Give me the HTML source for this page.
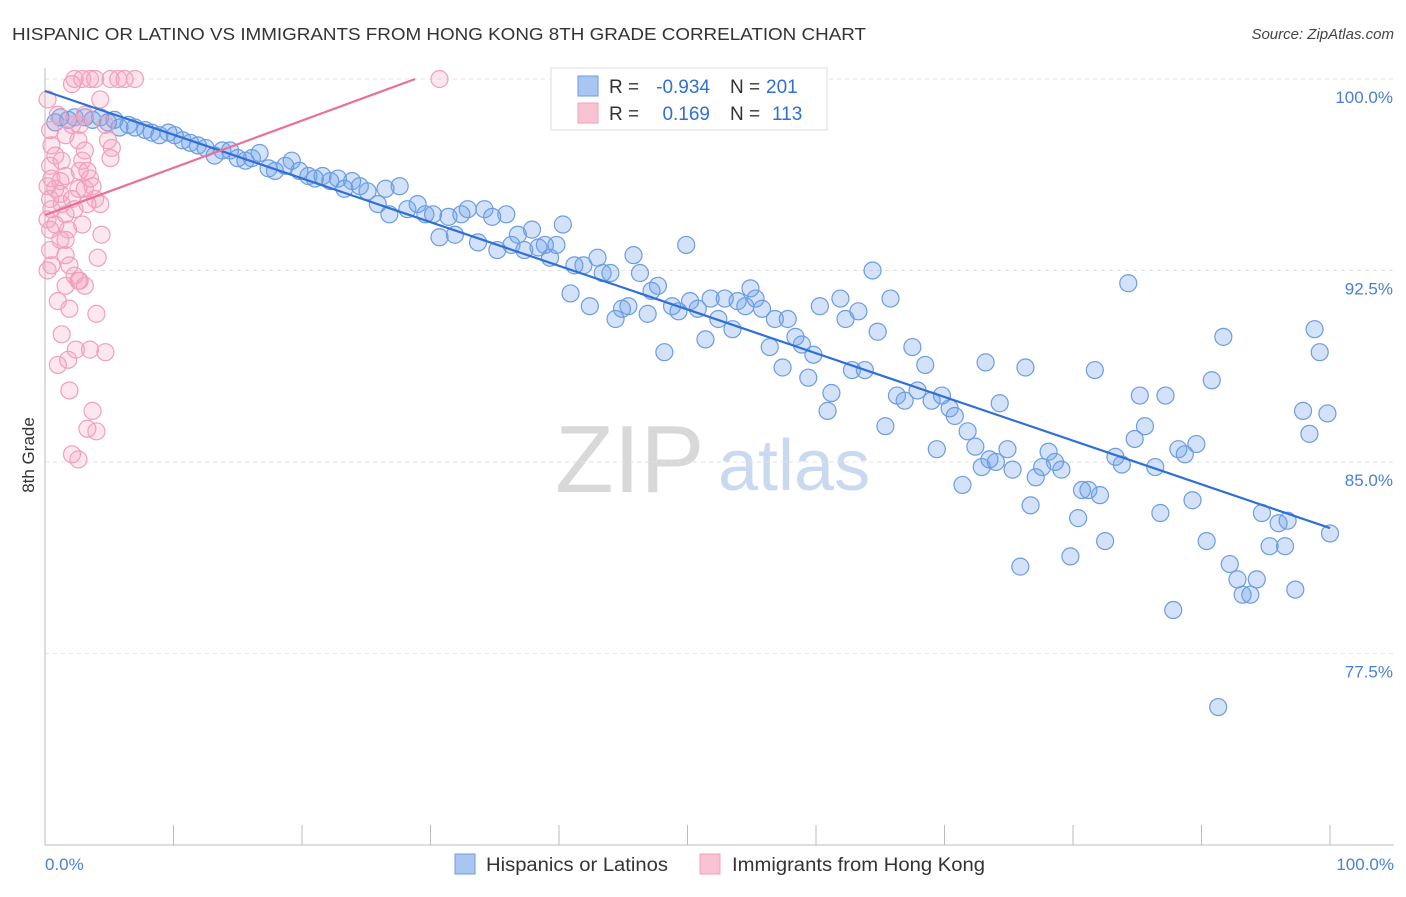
<!DOCTYPE html>
<html><head><meta charset="utf-8">
<style>
body{margin:0;background:#fff;font-family:"Liberation Sans",sans-serif;}
svg text{font-family:"Liberation Sans",sans-serif;}
</style></head>
<body>
<svg id="chart" width="1406" height="892" xmlns="http://www.w3.org/2000/svg">
<text x="12" y="40" font-size="17.5" fill="#333" textLength="854" lengthAdjust="spacingAndGlyphs">HISPANIC OR LATINO VS IMMIGRANTS FROM HONG KONG 8TH GRADE CORRELATION CHART</text>
<text x="1394" y="39" font-size="15" fill="#444" text-anchor="end" font-style="italic">Source: ZipAtlas.com</text>
<g>
<text x="555" y="492" font-size="96" fill="#d8d8d8" font-family="Liberation Serif, serif">ZIP</text>
<text x="718" y="490" font-size="72" fill="#c9d9f0">atlas</text>
</g>
<g id="grid"></g>
<g id="axes"></g>
<g id="pts"></g>
<g id="trend"></g>
<text transform="translate(34,455) rotate(-90)" font-size="17" fill="#333" text-anchor="middle">8th Grade</text>
<text x="45" y="870" font-size="17" fill="#4a7fd6">0.0%</text>
<text x="1394" y="870" font-size="17" fill="#4a7fd6" text-anchor="end">100.0%</text>
<g>
<rect x="551" y="68" width="276" height="62" fill="#fff" stroke="#ddd"/>
<rect x="578" y="76" width="20" height="20" fill="#a9c6f2" stroke="#6b9de0"/>
<text x="609" y="93" font-size="19" fill="#333">R = </text>
<text x="710" y="93" font-size="19" fill="#2f6fd6" text-anchor="end">-0.934</text>
<text x="730" y="93" font-size="19" fill="#333">N = </text>
<text x="766" y="93" font-size="19" fill="#2f6fd6">201</text>
<rect x="578" y="103" width="20" height="20" fill="#f8c3d3" stroke="#f0a0b8"/>
<text x="609" y="120" font-size="19" fill="#333">R = </text>
<text x="710" y="120" font-size="19" fill="#2f6fd6" text-anchor="end">0.169</text>
<text x="730" y="120" font-size="19" fill="#333">N = </text>
<text x="772" y="120" font-size="19" fill="#2f6fd6">113</text>
</g>
<g>
<g><rect x="455" y="854" width="20" height="20" fill="#a9c6f2" stroke="#6b9de0"/><text x="486" y="871" font-size="19" fill="#333" textLength="182" lengthAdjust="spacingAndGlyphs">Hispanics or Latinos</text></g>
<g><rect x="700" y="854" width="20" height="20" fill="#f8c3d3" stroke="#f0a0b8"/><text x="732" y="871" font-size="19" fill="#333" textLength="253" lengthAdjust="spacingAndGlyphs">Immigrants from Hong Kong</text></g>
</g>
</svg>
<script>
const yTicks=[100,92.5,85,77.5];
const yTickLabels=["100.0%","92.5%","85.0%","77.5%"];
const blueX=[0.8,1.2,1.8,2.3,3.1,3.7,4.3,4.9,5.4,5.8,6.5,7.0,7.8,8.3,8.9,9.6,10.1,10.7,11.3,11.9,12.5,13.2,13.8,14.4,15.0,15.6,16.1,16.7,17.4,17.9,18.7,19.2,19.8,20.5,21.0,21.6,22.2,22.8,23.3,23.9,24.5,25.1,25.9,26.5,26.8,27.6,28.2,29.0,29.6,30.2,30.7,31.4,31.9,32.4,32.9,33.7,34.2,34.8,35.2,35.9,36.3,36.8,37.3,37.9,38.4,38.9,39.3,39.8,40.3,40.9,41.2,41.9,42.4,43.0,43.4,44.0,44.4,44.9,45.4,45.8,46.3,46.9,47.2,47.7,48.2,48.8,49.3,49.9,50.2,50.8,51.4,51.8,52.4,52.9,53.5,53.9,54.5,54.9,55.3,55.8,56.4,56.8,57.4,57.8,58.4,58.9,59.4,59.8,60.3,60.9,61.2,61.9,62.3,62.8,63.3,63.8,64.4,64.8,65.4,65.8,66.3,66.9,67.5,67.9,68.5,69.0,69.4,69.8,70.4,70.8,71.4,71.8,72.4,72.9,73.2,73.5,74.0,74.3,74.9,75.3,75.9,76.3,76.7,77.1,77.6,78.1,78.6,79.1,79.8,80.4,80.7,81.2,81.7,82.1,82.5,83.3,83.8,84.3,84.8,85.2,85.6,86.4,86.8,87.2,87.8,88.2,88.7,89.3,89.6,90.4,90.8,91.3,91.7,92.2,92.8,93.2,93.8,94.3,94.7,95.3,96.0,96.5,96.7,97.3,97.9,98.4,98.8,99.2,99.8,100.0];
const blueY=[98.3,98.5,98.4,98.5,98.5,98.4,98.5,98.3,98.4,98.1,98.2,98.1,98.0,97.9,97.8,97.9,97.8,97.6,97.5,97.4,97.3,97.0,97.2,97.2,96.9,96.8,96.9,97.1,96.5,96.4,96.6,96.8,96.4,96.2,96.1,96.2,96.0,96.1,95.7,96.0,95.8,95.6,95.1,95.7,94.7,95.8,94.9,95.1,94.7,94.7,93.8,94.6,93.9,94.7,94.9,93.6,94.9,94.6,93.3,94.7,93.5,93.9,93.3,94.1,93.4,93.5,93.0,93.5,94.3,91.6,92.7,92.7,91.1,93.0,92.4,92.4,90.6,91.0,91.1,93.1,92.4,90.8,91.7,91.9,89.3,91.1,90.9,93.5,91.3,91.0,89.8,91.4,90.6,91.4,90.2,91.3,91.1,91.8,91.4,91.0,89.5,90.6,88.7,90.6,89.9,89.6,88.3,89.2,91.1,87.0,87.7,91.4,90.6,88.6,90.9,88.6,92.5,90.1,86.4,91.4,87.6,87.4,89.5,87.8,88.8,87.4,85.5,87.6,87.1,86.8,84.1,86.2,85.6,84.8,88.9,85.1,85.0,87.3,85.5,84.7,80.9,88.7,83.3,84.4,84.8,85.4,85.0,84.7,81.3,82.8,83.9,83.9,88.6,83.7,81.9,85.2,84.9,92.0,85.9,87.6,86.4,84.8,83.0,87.6,79.2,85.5,85.3,83.5,85.7,81.9,88.2,75.4,89.9,81.0,80.4,79.8,79.8,80.4,83.0,81.7,82.6,81.7,82.7,80.0,87.0,86.1,90.2,89.3,86.9,82.2];
const pinkX=[0.4,0.5,0.8,0.4,0.5,0.2,0.8,0.4,0.5,0.2,0.8,0.4,0.5,1.0,1.3,1.6,1.2,1.3,1.6,1.8,1.2,1.6,1.9,1.6,1.9,1.3,1.0,1.8,1.9,2.1,2.6,2.3,2.6,2.7,3.1,2.1,2.3,2.6,2.7,2.9,3.1,2.6,2.7,3.1,2.1,2.3,2.9,3.5,3.9,4.3,4.7,4.9,5.1,5.2,3.5,3.7,3.9,4.3,4.4,4.1,4.0,3.5,4.7,3.7,4.0,3.3,5.1,5.7,6.2,7.0,30.7,0.2,1.2,1.6,2.1,3.3,2.9,2.4,1.0,0.2,0.4,1.6,3.1,3.3];
const pinkY=[98.0,97.4,97.0,96.6,96.1,95.8,95.7,95.3,94.9,94.5,94.3,93.3,92.7,98.6,96.8,96.2,95.5,95.1,94.7,94.1,93.7,93.1,92.7,91.9,91.0,90.0,88.8,89.0,87.8,85.3,85.1,92.3,92.1,92.1,91.9,95.3,94.9,95.7,96.4,96.8,97.2,97.6,98.2,98.6,99.8,100,100,100,100,99.2,98.2,97.6,96.9,97.3,96.1,95.8,95.3,95.1,93.9,93.0,90.8,89.4,89.3,87.0,86.2,86.3,100,100,100,100,100,99.2,96.0,97.8,98.2,96.4,94.3,89.4,91.3,92.5,94.1,93.7,95.7,95.1];
const blueTrend=[[0,99.53],[100,82.41]];
const pinkTrend=[[0,94.67],[28.8,100]];

const X0=45,X1=1330,YTOP=79,PX_PER=25.53;
const xs=v=>X0+(X1-X0)*v/100;
const ys=v=>YTOP+(100-v)*PX_PER;
const NS="http://www.w3.org/2000/svg";
function mk(tag,attrs,parent){const e=document.createElementNS(NS,tag);for(const k in attrs)e.setAttribute(k,attrs[k]);parent.appendChild(e);return e;}
const grid=document.getElementById('grid'),axes=document.getElementById('axes'),pts=document.getElementById('pts'),trend=document.getElementById('trend');
yTicks.forEach((t,i)=>{
  const l=mk('line',{x1:X0,x2:1394,y1:ys(t),y2:ys(t),stroke:'#e2e2e2','stroke-dasharray':'4,4'},grid);
  
  
  const tx=mk('text',{x:1393,y:ys(t)+24,'font-size':17,fill:'#4a7fd6','text-anchor':'end'},grid);
  tx.textContent=yTickLabels[i];
  
  
});
const ya=mk('line',{x1:X0,x2:X0,y1:68,y2:845,stroke:'#bbb'},axes);


const xa=mk('line',{x1:X0,x2:1394,y1:845,y2:845,stroke:'#bbb'},axes);


for(let i=0;i<=10;i++){
  const t=mk('line',{x1:xs(i*10),x2:xs(i*10),y1:825,y2:845,stroke:'#bbb'},axes);
  
  
}
blueX.forEach((v,i)=>{
  const c=mk('circle',{cx:xs(v),cy:ys(blueY[i]),r:8.5,fill:'rgba(110,160,235,0.3)',stroke:'#6b9de0','stroke-width':1.2},pts);
  
  
});
pinkX.forEach((v,i)=>{
  const c=mk('circle',{cx:xs(v),cy:ys(pinkY[i]),r:8.5,fill:'rgba(245,160,190,0.25)',stroke:'#f0a0b8','stroke-width':1.2},pts);
  
  
});
const bl=mk('line',{x1:xs(blueTrend[0][0]),y1:ys(blueTrend[0][1]),x2:xs(blueTrend[1][0]),y2:ys(blueTrend[1][1]),stroke:'#2f6fd6','stroke-width':2.2},trend);


const pl=mk('line',{x1:xs(pinkTrend[0][0]),y1:ys(pinkTrend[0][1]),x2:xs(pinkTrend[1][0]),y2:ys(pinkTrend[1][1]),stroke:'#e8709a','stroke-width':2.2},trend);


</script>
</body></html>
